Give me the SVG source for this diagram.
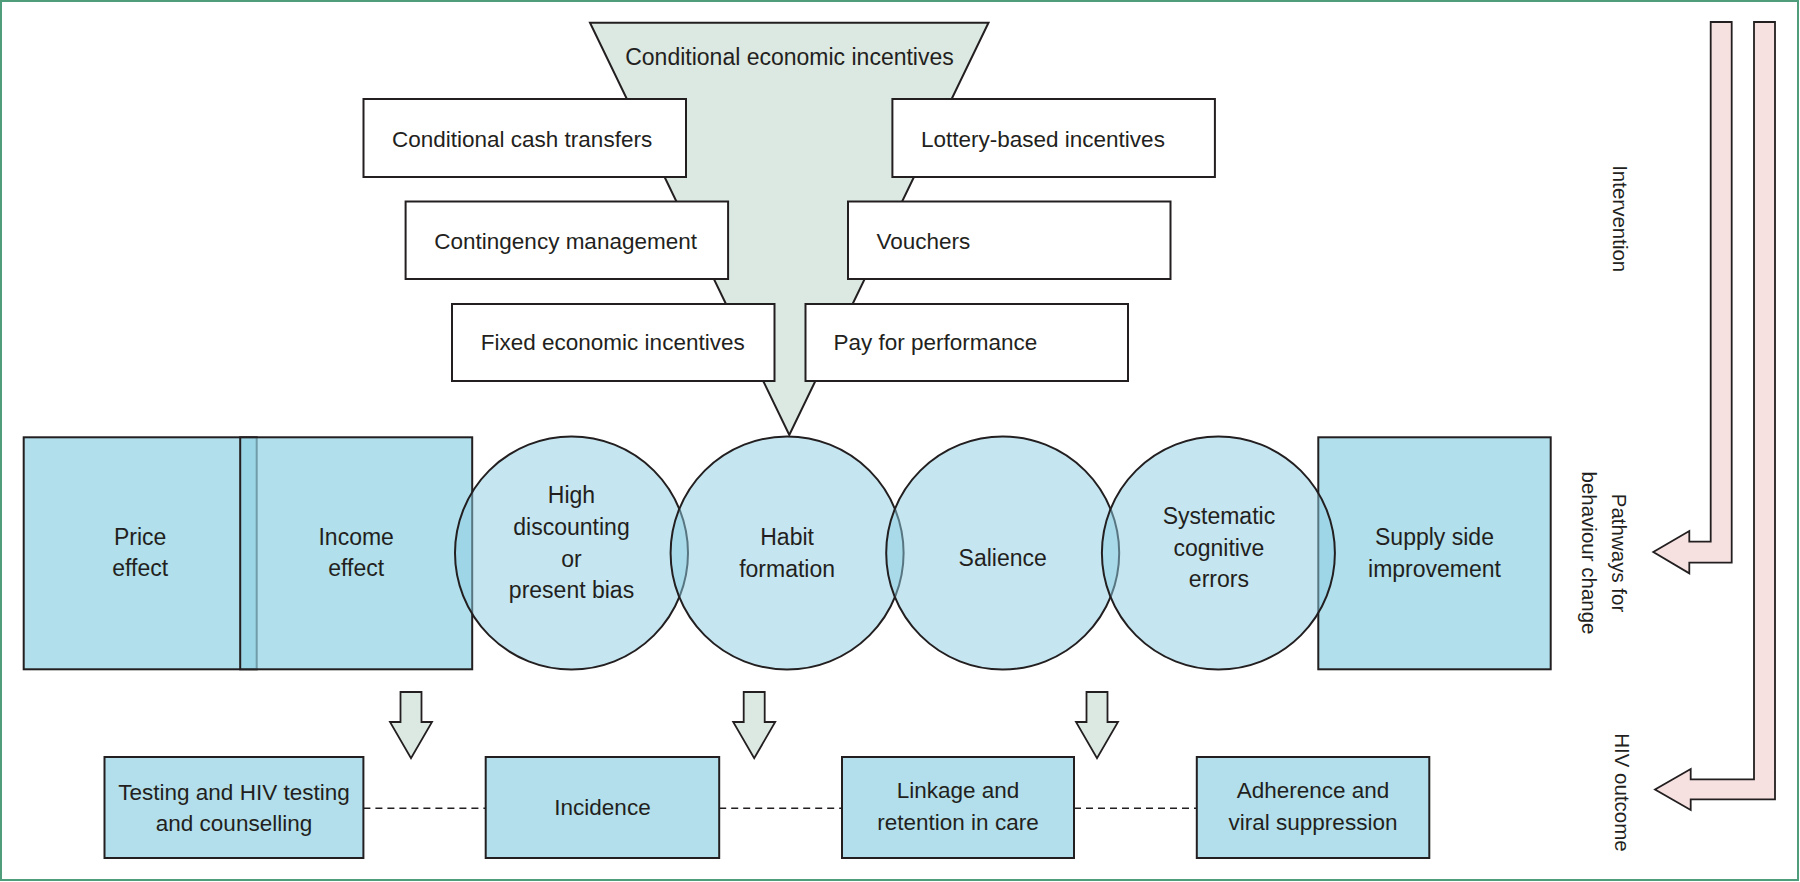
<svg xmlns="http://www.w3.org/2000/svg" width="1800" height="882" viewBox="0 0 1800 882">
<style>
text{font-family:"Liberation Sans",Arial,sans-serif;fill:#231f20}
.ttl{font-size:23px}
.bt{font-size:22.5px}
.mt{font-size:23px;text-anchor:middle}
.lt{font-size:22.5px;text-anchor:middle}
.side{font-size:20.5px;text-anchor:middle}
.wbox{fill:#ffffff;stroke:#231f20;stroke-width:2}
.rect{fill:#90d1e2;fill-opacity:0.7;stroke:#231f20;stroke-width:2}
.circ{fill:#8bcde3;fill-opacity:0.5;stroke:#231f20;stroke-width:2}
.out{fill:#b2dfeb;stroke:#231f20;stroke-width:2}
.dn{fill:#dce8e2;stroke:#231f20;stroke-width:1.8;stroke-linejoin:miter}
.pink{fill:#f6e0e0;stroke:#231f20;stroke-width:1.8}
.dash{stroke:#231f20;stroke-width:1.6;stroke-dasharray:7 5;fill:none}
</style>
<rect x="1" y="1" width="1797" height="879" fill="#ffffff" stroke="#4f9d7a" stroke-width="2"/>

<g id="funnel">
<polygon points="590,22.7 988.5,22.7 789.3,435" fill="#dce8e2" stroke="#231f20" stroke-width="2" stroke-linejoin="miter"/>
<text class="ttl" x="789.5" y="65" text-anchor="middle">Conditional economic incentives</text>
</g>

<g id="cct"><rect class="wbox" x="363.5" y="99" width="322.5" height="78"/><text class="bt" x="392" y="147">Conditional cash transfers</text></g>
<g id="contingency"><rect class="wbox" x="405.6" y="201.5" width="322.5" height="77.5"/><text class="bt" x="434.3" y="248.5">Contingency management</text></g>
<g id="fixed"><rect class="wbox" x="452" y="304" width="322.5" height="77"/><text class="bt" x="480.8" y="350">Fixed economic incentives</text></g>
<g id="lottery"><rect class="wbox" x="892.4" y="99" width="322.5" height="78"/><text class="bt" x="921" y="147">Lottery-based incentives</text></g>
<g id="vouchers"><rect class="wbox" x="848" y="201.5" width="322.5" height="77.5"/><text class="bt" x="876.5" y="248.5">Vouchers</text></g>
<g id="pay"><rect class="wbox" x="805.5" y="304" width="322.5" height="77"/><text class="bt" x="833.5" y="350">Pay for performance</text></g>

<g id="price"><rect class="rect" x="23.7" y="437.3" width="233" height="232"/></g>
<g id="income"><rect class="rect" x="240.2" y="437.3" width="232" height="232"/></g>
<g id="supply"><rect class="rect" x="1318.3" y="437.3" width="232.4" height="232"/></g>
<g id="discounting"><circle class="circ" cx="571.5" cy="553" r="116.5"/></g>
<g id="habit"><circle class="circ" cx="787.1" cy="553" r="116.5"/></g>
<g id="salience"><circle class="circ" cx="1002.7" cy="553" r="116.5"/></g>
<g id="systematic"><circle class="circ" cx="1218.4" cy="553" r="116.5"/></g>

<g id="middle-labels">
<text class="mt" x="140.2" y="545">Price</text><text class="mt" x="140.2" y="576">effect</text>
<text class="mt" x="356.2" y="545">Income</text><text class="mt" x="356.2" y="576">effect</text>
<text class="mt" x="571.5" y="503.3">High</text><text class="mt" x="571.5" y="535">discounting</text><text class="mt" x="571.5" y="566.7">or</text><text class="mt" x="571.5" y="598.3">present bias</text>
<text class="mt" x="787.1" y="544.5">Habit</text><text class="mt" x="787.1" y="576.5">formation</text>
<text class="mt" x="1002.7" y="565.5">Salience</text>
<text class="mt" x="1218.9" y="524">Systematic</text><text class="mt" x="1218.9" y="555.5">cognitive</text><text class="mt" x="1218.9" y="587">errors</text>
<text class="mt" x="1434.5" y="545">Supply side</text><text class="mt" x="1434.5" y="576.7">improvement</text>
</g>

<g id="down-arrows">
<polygon class="dn" points="400.5,692 421.5,692 421.5,722 432,722 411,758.3 390,722 400.5,722"/>
<polygon class="dn" points="743.7,692 764.7,692 764.7,722 775.2,722 754.2,758.3 733.2,722 743.7,722"/>
<polygon class="dn" points="1086.5,692 1107.5,692 1107.5,722 1118,722 1097,758.3 1076,722 1086.5,722"/>
</g>

<g id="connectors">
<line class="dash" x1="363.4" y1="808.3" x2="485.7" y2="808.3"/>
<line class="dash" x1="719.2" y1="808.3" x2="842" y2="808.3"/>
<line class="dash" x1="1074" y1="808.3" x2="1196.8" y2="808.3"/>
</g>

<g id="testing"><rect class="out" x="104.5" y="757" width="258.9" height="101"/><text class="lt" x="234" y="800">Testing and HIV testing</text><text class="lt" x="234" y="830.7">and counselling</text></g>
<g id="incidence"><rect class="out" x="485.7" y="757" width="233.5" height="101"/><text class="lt" x="602.5" y="815">Incidence</text></g>
<g id="linkage"><rect class="out" x="842" y="757" width="232" height="101"/><text class="lt" x="958" y="798.3">Linkage and</text><text class="lt" x="958" y="830">retention in care</text></g>
<g id="adherence"><rect class="out" x="1196.8" y="757" width="232.5" height="101"/><text class="lt" x="1313" y="798.3">Adherence and</text><text class="lt" x="1313" y="830">viral suppression</text></g>

<g id="side-arrows">
<polygon class="pink" points="1710.7,22 1731.7,22 1731.7,562.7 1689.3,562.7 1689.3,573.3 1653.3,552 1689.3,531 1689.3,541.7 1710.7,541.7"/>
<polygon class="pink" points="1754,22 1775,22 1775,799.3 1690.7,799.3 1690.7,810 1655,789.5 1690.7,769 1690.7,779.3 1754,779.3"/>
</g>

<g id="side-labels">
<text class="side" transform="translate(1613,218.7) rotate(90)">Intervention</text>
<text class="side" transform="translate(1612,553) rotate(90)"><tspan x="0" y="0">Pathways for</tspan><tspan x="0" y="30">behaviour change</tspan></text>
<text class="side" transform="translate(1615,792.5) rotate(90)">HIV outcome</text>
</g>
</svg>
